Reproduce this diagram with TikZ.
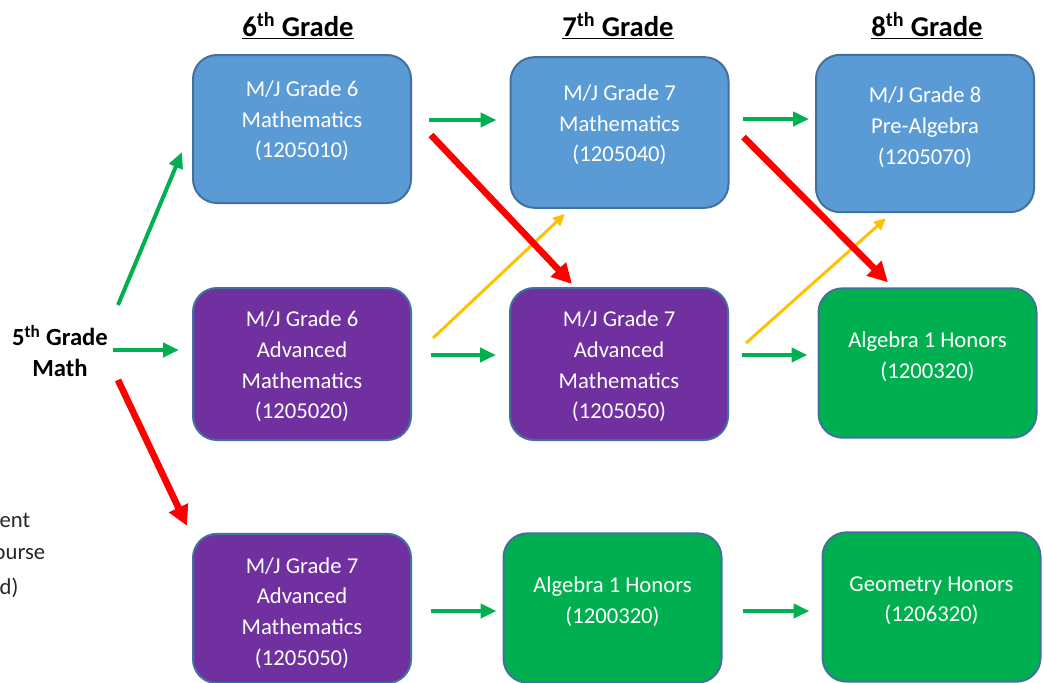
\documentclass[tikz,border=0pt]{standalone}
\usepackage{fontspec}
\setmainfont{Carlito}
\usepackage{tikz}
\definecolor{cblue}{RGB}{91,155,213}
\definecolor{cpurple}{RGB}{112,48,160}
\definecolor{cgreen}{RGB}{0,176,80}
\definecolor{cline}{RGB}{65,113,156}
\definecolor{cyellow}{RGB}{255,192,0}
\usetikzlibrary{arrows.meta}
% text block moved up or down inside its box
\newcommand{\lifted}[2]{\raisebox{#1}[\height][\depth]{\begin{tabular}{@{}c@{}}#2\end{tabular}}}

\begin{document}
\begin{tikzpicture}[x=0.75pt, y=-0.75pt, %pixel grid, y runs down
	course/.style={draw=cline, line width=1.5pt, rounded corners=18pt, minimum width=163.5pt, minimum height=112pt, text=white, align=center, font=\fontsize{17}{23}\selectfont},
	basic/.style={course, fill=cblue},
	adv/.style={course, fill=cpurple},
	hon/.style={course, fill=cgreen},
	head/.style={font=\fontsize{21.5}{26}\selectfont\bfseries},
	gopath/.style={draw=cgreen, line width=3pt, -{Triangle[length=12pt,width=10.5pt]}},
	uppath/.style={draw=red, line width=5pt, -{Triangle[length=15pt,width=15pt]}},
	altpath/.style={draw=cyellow, line width=2.2pt, -{Triangle[length=9pt,width=8pt]}}]
	\useasboundingbox (0,0) rectangle (1044,682);
	\clip (0,0) rectangle (1044,682);
	% headers
	\node[head] (h6) at (298,26) {\underline{6\textsuperscript{th} Grade}};
	\node[head] (h7) at (618,26) {\underline{7\textsuperscript{th} Grade}};
	\node[head] (h8) at (927,26) {\underline{8\textsuperscript{th} Grade}};
	% start
	\node[align=center, font=\fontsize{18.5}{23}\selectfont\bfseries] (five) at (60,351) {5\textsuperscript{th} Grade\\Math};
	% left text, cut off
	\node[anchor=west, text=black!85, font=\fontsize{17}{23}\selectfont] (t1) at (-5,520) {ent};
	\node[anchor=west, text=black!85, font=\fontsize{17}{23}\selectfont] (t2) at (-11,554) {ourse};
	\node[anchor=west, text=black!85, font=\fontsize{17}{23}\selectfont] (t3) at (-5,588) {d)};
	% courses
	\node[basic, minimum height=111pt] (r1c1) at (302,129) {\lifted{6pt}{M/J Grade 6\\Mathematics\\(1205010)}};
	\node[basic, minimum height=113pt] (r1c2) at (619.5,132.5) {\lifted{5.5pt}{M/J Grade 7\\Mathematics\\(1205040)}};
	\node[basic, minimum height=118pt] (r1c3) at (925,133.5) {\lifted{4.5pt}{M/J Grade 8\\Pre-Algebra\\(1205070)}};
	\node[adv, minimum height=114pt] (r2c1) at (302,364) {\lifted{-2pt}{M/J Grade 6\\Advanced\\Mathematics\\(1205020)}};
	\node[adv, minimum height=114pt] (r2c2) at (619,364) {\lifted{-2pt}{M/J Grade 7\\Advanced\\Mathematics\\(1205050)}};
	\node[hon, minimum height=112pt] (r2c3) at (927.5,363) {\lifted{4.5pt}{Algebra 1 Honors\\(1200320)}};
	\node[adv] (r3c1) at (302,608.5) {\lifted{-3.5pt}{M/J Grade 7\\Advanced\\Mathematics\\(1205050)}};
	\node[hon] (r3c2) at (612.5,608) {\lifted{4.5pt}{Algebra 1 Honors\\(1200320)}};
	\node[hon] (r3c3) at (931.5,607) {\lifted{5pt}{Geometry Honors\\(1206320)}};
	% paths
	\draw[gopath] ([shift={(58,-46)}]five.center) -- ([shift={(-10,23)}]r1c1.west);
	\draw[gopath] ([shift={(53,-1)}]five.center) -- ([shift={(-13,-14)}]r2c1.west);
	\draw[uppath] ([shift={(58,29)}]five.center) -- ([shift={(-5,-7)}]r3c1.north west);
	\draw[gopath] ([shift={(17,-9)}]r1c1.east) -- ([shift={(-13,-12.5)}]r1c2.west);
	\draw[gopath] ([shift={(19,-9)}]r2c1.east) -- ([shift={(-13,-9)}]r2c2.west);
	\draw[gopath] ([shift={(13,-13.5)}]r1c2.east) -- ([shift={(-6,-14.5)}]r1c3.west);
	\draw[gopath] ([shift={(13,-9)}]r2c2.east) -- ([shift={(-10,-8)}]r2c3.west);
	\draw[gopath] ([shift={(19,2.5)}]r3c1.east) -- ([shift={(-6,3)}]r3c2.west);
	\draw[gopath] ([shift={(20,3)}]r3c2.east) -- ([shift={(-12,4)}]r3c3.west);
	\draw[altpath] ([shift={(21,-26)}]r2c1.east) -- ([shift={(-54.5,5)}]r1c2.south);
	\draw[altpath] ([shift={(17,-21)}]r2c2.east) -- ([shift={(-39,5)}]r1c3.south);
	\draw[uppath] ([shift={(19,6)}]r1c1.east) -- ([shift={(-47,-3)}]r2c2.north);
	\draw[uppath] ([shift={(14,4.5)}]r1c2.east) -- ([shift={(-39.5,-5)}]r2c3.north);
\end{tikzpicture}
\end{document}
